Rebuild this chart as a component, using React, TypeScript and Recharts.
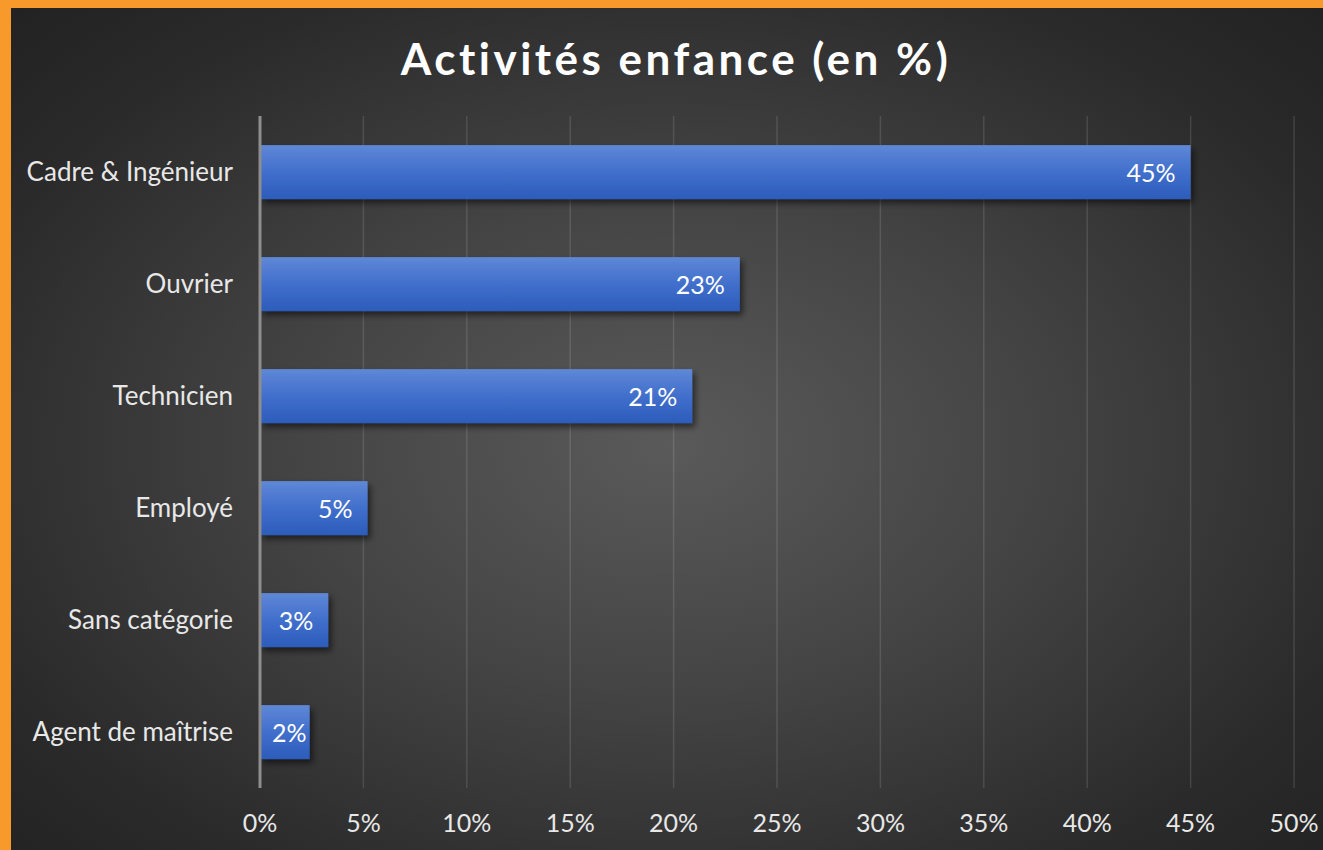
import { Bar, BarChart, CartesianGrid, LabelList, XAxis, YAxis } from "recharts";

const categories = [
  "Cadre & Ingénieur",
  "Ouvrier",
  "Technicien",
  "Employé",
  "Sans catégorie",
  "Agent de maîtrise",
];
const values = [45, 23.2, 20.9, 5.2, 3.3, 2.4];
const xTicks = [0, 5, 10, 15, 20, 25, 30, 35, 40, 45, 50];

const data = categories.map((name, i) => ({ name, value: values[i] }));

const FONT = "Lato, 'Open Sans', sans-serif";

function ShadowBar(props: any) {
  const { x, y, width, height } = props;
  if (!width || width <= 0) return null;
  return (
    <rect
      x={x}
      y={y}
      width={width}
      height={height}
      fill="url(#barGrad)"
      filter="url(#barShadow)"
    />
  );
}

// value label inside the bar end; pushed right when the bar is too short
function BarValueLabel(props: any) {
  const { x, y, width, height, value } = props;
  const text = `${Math.round(Number(value))}%`;
  const textW = text.length * 12;
  const end = x + width;
  const tx = width < textW + 30 ? end - 3 : end - 15;
  return (
    <text
      x={tx}
      y={y + height / 2}
      textAnchor="end"
      dominantBaseline="central"
      fill="#ffffff"
      fontSize={25}
      fontFamily={FONT}
    >
      {text}
    </text>
  );
}

export default function App() {
  return (
    <div
      style={{
        position: "absolute",
        top: 0,
        left: 0,
        width: 1323,
        height: 850,
        background: "#f7992b",
        overflow: "hidden",
      }}
    >
      <div
        style={{
          position: "absolute",
          top: 8,
          left: 11,
          width: 1312,
          height: 842,
          background:
            "radial-gradient(ellipse farthest-corner at 50% 52%, #5a5a5a 0%, #444 40%, #2a2a2a 80%, #222 100%)",
        }}
      />
      <div
        style={{
          position: "absolute",
          top: 32,
          left: 0,
          width: 1352,
          textAlign: "center",
          fontFamily: FONT,
          fontWeight: 700,
          fontSize: 44,
          letterSpacing: 3.5,
          color: "#ffffff",
        }}
      >
        Activités enfance (en %)
      </div>
      <div style={{ position: "absolute", top: 0, left: 0 }}>
        <BarChart
          width={1323}
          height={850}
          data={data}
          layout="vertical"
          margin={{ top: 116, right: 29, left: 0, bottom: 0 }}
          barCategoryGap="26%"
        >
          <defs>
            <linearGradient id="barGrad" x1="0" y1="0" x2="0" y2="1">
              <stop offset="0%" stopColor="#5f88d6" />
              <stop offset="50%" stopColor="#416fcc" />
              <stop offset="100%" stopColor="#2c5cbb" />
            </linearGradient>
            <filter id="barShadow" x="-10%" y="-20%" width="130%" height="160%">
              <feDropShadow dx="3" dy="4" stdDeviation="3" floodColor="#000" floodOpacity="0.55" />
            </filter>
          </defs>
          <CartesianGrid
            horizontal={false}
            stroke="rgba(255,255,255,0.12)"
            strokeWidth={1.5}
          />
          <XAxis
            type="number"
            domain={[0, 50]}
            ticks={xTicks}
            tickFormatter={(v: number) => `${v}%`}
            axisLine={false}
            tickLine={false}
            tickSize={0}
            tickMargin={26}
            height={62}
            interval={0}
            tick={{ fill: "#e8e8e8", fontSize: 25, fontFamily: FONT }}
          />
          <YAxis
            type="category"
            dataKey="name"
            width={260}
            axisLine={{ stroke: "#8e8e8e", strokeWidth: 3 }}
            tickLine={false}
            tickSize={0}
            tickMargin={27}
            interval={0}
            tick={{ fill: "#e8e8e8", fontSize: 26, fontFamily: FONT }}
          />
          <Bar dataKey="value" shape={ShadowBar} isAnimationActive={false}>
            <LabelList dataKey="value" content={BarValueLabel} />
          </Bar>
        </BarChart>
      </div>
    </div>
  );
}
